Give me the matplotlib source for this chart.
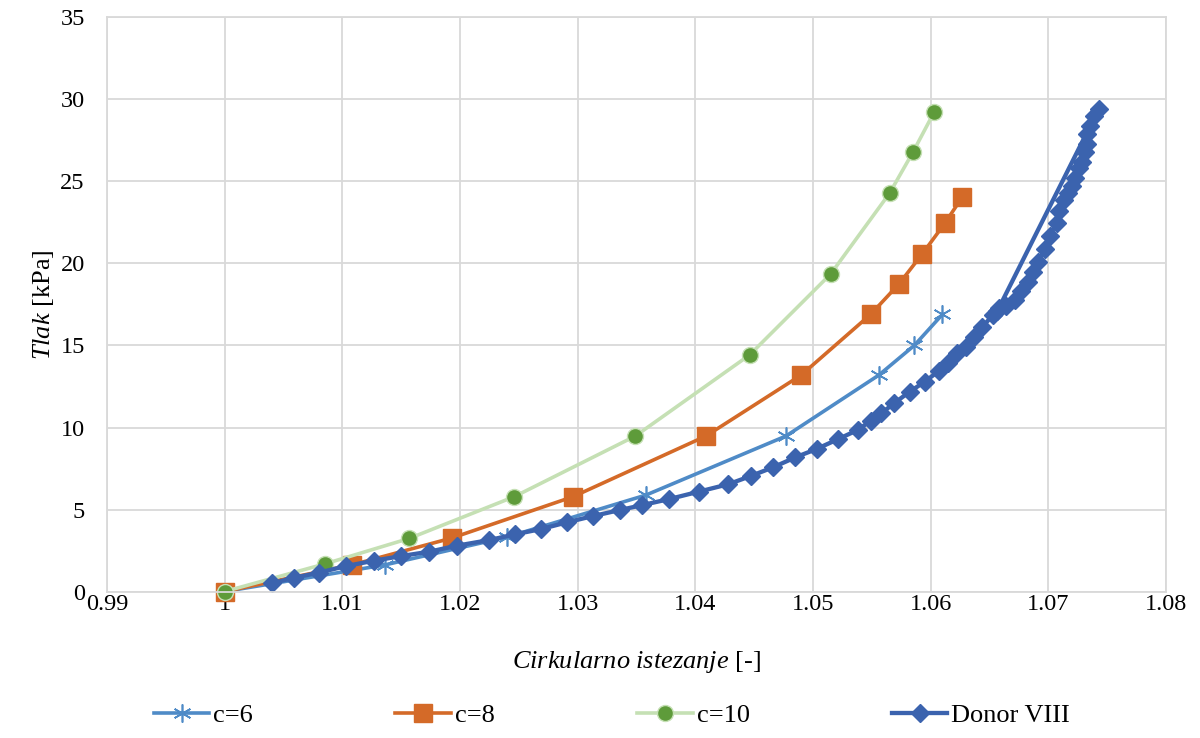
import matplotlib
matplotlib.use('Agg')
import matplotlib.pyplot as plt
from matplotlib.ticker import FuncFormatter, MultipleLocator

plt.rcParams['font.family'] = ['Liberation Serif', 'DejaVu Serif']
plt.rcParams['mathtext.fontset'] = 'custom'
plt.rcParams['mathtext.rm'] = 'Liberation Serif'
plt.rcParams['mathtext.it'] = 'Liberation Serif:italic'

# --- podaci: cirkularno istezanje [-] i tlak [kPa] ----------------------
c6_stretch = [1.0, 1.0136, 1.0240, 1.0358, 1.0477, 1.0556, 1.0586, 1.0610]
c6_pressure = [0.0, 1.62, 3.32, 5.88, 9.48, 13.2, 15.0, 16.9]

c8_stretch = [1.0, 1.0108, 1.0193, 1.0296, 1.0409, 1.0490, 1.0549,
              1.0573, 1.0593, 1.0612, 1.0627]
c8_pressure = [0.0, 1.62, 3.26, 5.78, 9.48, 13.2, 16.9,
               18.75, 20.6, 22.45, 24.07]

c10_stretch = [1.0, 1.0085, 1.0157, 1.0246, 1.0349, 1.0446, 1.0515,
               1.0565, 1.0585, 1.0603]
c10_pressure = [0.0, 1.68, 3.24, 5.78, 9.48, 14.42, 19.36,
                24.28, 26.8, 29.24]

donor_stretch = [1.0040, 1.0059, 1.0080, 1.0103, 1.0127, 1.0150,
                 1.0174, 1.0197, 1.0225, 1.0247, 1.0269, 1.0291, 1.0313,
                 1.0336, 1.0355, 1.0378, 1.0403, 1.0428, 1.0447, 1.0466,
                 1.0485, 1.0503, 1.0521, 1.0538, 1.0549, 1.0558, 1.0569,
                 1.0582, 1.0595, 1.0607, 1.0615, 1.0622, 1.0630, 1.0637,
                 1.0644, 1.0653, 1.0656, 1.0664, 1.0672, 1.0677, 1.0683,
                 1.0687, 1.0691, 1.0697, 1.0701, 1.0707, 1.0709, 1.0713,
                 1.0717, 1.0720, 1.0723, 1.0726, 1.0729, 1.0731, 1.0733,
                 1.0733, 1.0735, 1.0739, 1.0743, 1.0658]
donor_pressure = [0.50, 0.84, 1.15, 1.55, 1.88, 2.16,
                  2.43, 2.79, 3.14, 3.49, 3.81, 4.22, 4.60,
                  4.97, 5.27, 5.64, 6.09, 6.54, 7.04, 7.57,
                  8.18, 8.69, 9.28, 9.85, 10.41, 10.87, 11.48,
                  12.18, 12.79, 13.46, 13.95, 14.52, 14.93, 15.54,
                  16.15, 16.86, 17.1, 17.4, 17.8, 18.3, 18.9,
                  19.5, 20.1, 20.9, 21.7, 22.45, 23.2, 23.9,
                  24.3, 24.7, 25.2, 25.8, 26.2, 26.8, 27.3,
                  27.9, 28.4, 29.0, 29.45, 17.3]

x_ticks = [0.99, 1.0, 1.01, 1.02, 1.03, 1.04, 1.05, 1.06, 1.07, 1.08]

# --- crtanje ------------------------------------------------------------
fig = plt.figure(figsize=(12, 7.38), dpi=100)
ax = fig.add_axes([0.0892, 0.1985, 0.8825, 0.7778])

ax.plot(c6_stretch, c6_pressure, color='#4F8BC7', lw=2.6, clip_on=False,
        marker=(6, 2, 0), ms=13, mew=1.2, mec='#4F8BC7', label='c=6')
ax.plot(c8_stretch, c8_pressure, color='#D46A28', lw=2.6, clip_on=False,
        marker='s', ms=12.5, mfc='#D46A28', mec='#D46A28', label='c=8')
ax.plot(c10_stretch, c10_pressure, color='#C5E0B4', lw=2.6, clip_on=False,
        marker='o', ms=11.5, mfc='#5E9B3A', mec='#C5E0B4', mew=1.0, label='c=10')
ax.plot(donor_stretch, donor_pressure, color='#3B63AE', lw=3.1,
        marker='D', ms=9.5, mfc='#3B63AE', mec='#3B63AE', label='Donor VIII')

ax.set_xlim(0.99, 1.08)
ax.set_ylim(0, 35)
ax.set_xticks(x_ticks)
ax.xaxis.set_major_formatter(FuncFormatter(lambda v, p: '%g' % round(v, 2)))
ax.yaxis.set_major_locator(MultipleLocator(5))
ax.tick_params(length=0, labelsize=17.5, colors='#000000')
ax.tick_params(axis='x', pad=2)
ax.tick_params(axis='y', pad=16)

ax.grid(True, color='#D9D9D9', lw=1.3)
ax.set_axisbelow(True)
for side in ax.spines.values():
    side.set_color('#D9D9D9')
    side.set_linewidth(1.3)

ax.set_xlabel(r'$\it{Cirkularno\ istezanje}$ [-]', fontsize=19, labelpad=24)
ax.set_ylabel(r'$\it{Tlak}$ [kPa]', fontsize=19, labelpad=3)

fig.legend(loc='center', bbox_to_anchor=(0.51, 0.031), ncol=4,
           frameon=False, fontsize=19, handlelength=2.1, handletextpad=0.15,
           columnspacing=5.4)

fig.savefig('out.png', dpi=100)
